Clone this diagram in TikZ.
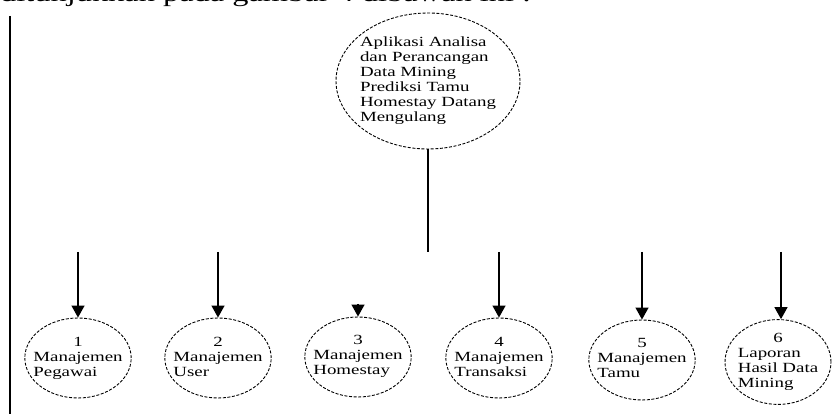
\documentclass[tikz,border=0pt]{standalone}
\usepackage{fontspec}
\usepackage{graphicx}
\setmainfont{Liberation Serif}
\usetikzlibrary{shapes.geometric, arrows.meta, positioning}

% text in the scan is drawn wider than it is tall
\newcommand{\widetext}[1]{\scalebox{1.35}[1]{#1}}
% number centred over left-aligned lines
\newcommand{\proctext}[2]{\widetext{\begin{tabular}{@{}l@{}}\multicolumn{1}{@{}c@{}}{#1}\\#2\end{tabular}}}

\begin{document}
\begin{tikzpicture}[
    x=1pt, y=-1pt,
    proc/.style={ellipse, draw, dash pattern=on 3pt off 1.6pt, line width=0.9pt, minimum width=106pt, minimum height=80pt, inner xsep=-7pt, inner ysep=0pt, font=\fontsize{14}{15}\selectfont},
    mainproc/.style={proc, minimum width=184pt, minimum height=136pt, inner xsep=-3pt, inner ysep=3pt},
    arrow/.style={-{Triangle[length=12pt, width=13pt]}, line width=1.3pt},
    link/.style={line width=1.3pt}
]
    \useasboundingbox (0,0) rectangle (836,414);
    \clip (0,0) rectangle (836,414);

    % Cut-off sentence and page rule
    \node[anchor=base west, inner sep=0pt, font=\fontsize{24}{26}\selectfont] (caption) at (0,2) {\widetext{ditunjukkan pada gambar 4 dibawah ini :}};
    \draw[line width=1.6pt] (10,16) -- (10,414);

    % Main process
    \node[mainproc] (app) at (428,81) {\widetext{\begin{tabular}{@{}l@{}}Aplikasi Analisa\\dan Perancangan\\Data Mining\\Prediksi Tamu\\Homestay Datang\\Mengulang\end{tabular}}};

    % Sub processes
    \node[proc] (m1) at (78,358) {\proctext{1}{Manajemen\\Pegawai}};
    \node[proc] (m2) at (218,358) {\proctext{2}{Manajemen\\User}};
    \node[proc] (m3) at (358,357) {\proctext{3}{Manajemen\\Homestay}};
    \node[proc] (m4) at (499,358) {\proctext{4}{Manajemen\\Transaksi}};
    \node[proc] (m5) at (642,360) {\proctext{5}{Manajemen\\Tamu}};
    \node[proc] (m6) at (778,362) {\proctext{6}{Laporan\\Hasil Data\\Mining}};

    % Loose ends of the connectors
    \coordinate (trunk) at (428,252);
    \coordinate (a1) at (78,252);
    \coordinate (a2) at (218,252);
    \coordinate (a3) at (358,304);
    \coordinate (a4) at (499,252);
    \coordinate (a5) at (642,252);
    \coordinate (a6) at (781,252);

    % Connectors
    \draw[link] (app) -- (trunk);
    \draw[arrow] (a1) -- (m1);
    \draw[arrow] (a2) -- (m2);
    \draw[arrow] (a3) -- (m3);
    \draw[arrow] (a4) -- (m4);
    \draw[arrow] (a5) -- (m5);
    \draw[arrow] (a6) -- (m6.north -| a6);

\end{tikzpicture}
\end{document}
